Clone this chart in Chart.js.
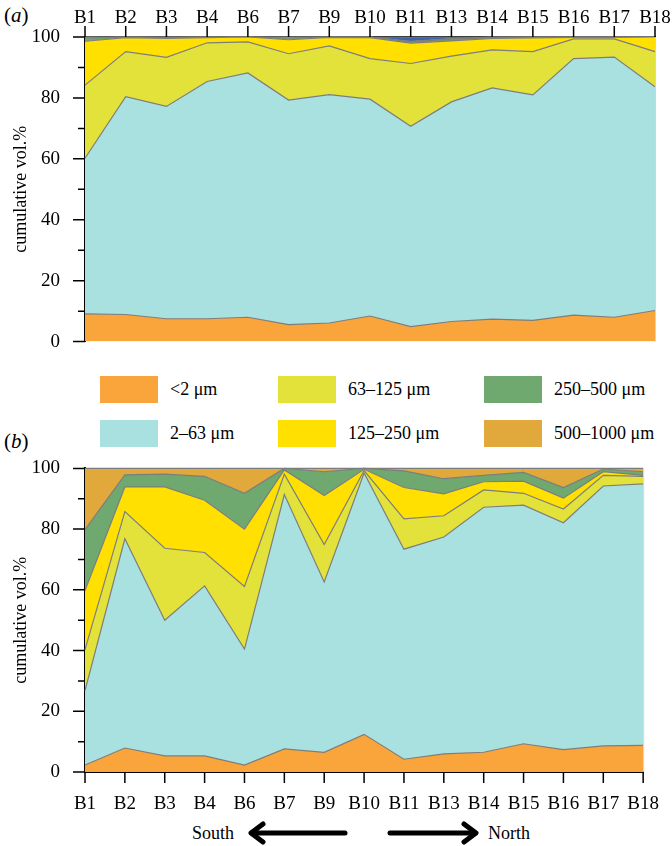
<!DOCTYPE html>
<html>
<head>
<meta charset="utf-8">
<script src="https://cdn.jsdelivr.net/npm/chart.js@4.4.1/dist/chart.umd.min.js"></script>
<style>
  body { margin: 0; background: #fff; width: 672px; height: 846px; position: relative; overflow: hidden;
         font-family: 'Liberation Serif', 'Times New Roman', serif; color: #000; }
  .box { position: absolute; left: 0; width: 672px; }
  .panel { position: absolute; left: 4px; font-size: 21px; line-height: 22px; }
  .lg { position: absolute; display: flex; align-items: center; font-size: 18px; height: 27px; white-space: nowrap; }
  .sw { width: 58px; height: 27px; margin-right: 12px; }
  .dir { position: absolute; font-size: 18px; line-height: 20px; top: 823px; }
</style>
</head>
<body>
<div class="panel" style="top:4px">(<i>a</i>)</div>
<div class="box" style="top:0;height:370px"><canvas id="chartA"></canvas></div>
<div id="legend"></div>
<div class="panel" style="top:430px">(<i>b</i>)</div>
<div class="box" style="top:440px;height:380px"><canvas id="chartB"></canvas></div>
<div class="dir" style="left:192px">South</div>
<div class="dir" style="left:488px">North</div>
<svg style="position:absolute;left:0;top:815px" width="672" height="31">
  <g stroke="#000" stroke-width="5" stroke-linecap="round" stroke-linejoin="round" fill="none">
    <line x1="252" y1="18" x2="345" y2="18"/>
    <polyline points="263,9 251,18 263,27"/>
    <line x1="390" y1="18" x2="474" y2="18"/>
    <polyline points="464,9 476,18 464,27"/>
  </g>
</svg>
<script>
// stations along the coast, south -> north
const stations = ['B1', 'B2', 'B3', 'B4', 'B6', 'B7', 'B9', 'B10', 'B11', 'B13', 'B14', 'B15', 'B16', 'B17', 'B18'];
const sizeClasses = ['<2 μm', '2–63 μm', '63–125 μm', '125–250 μm', '250–500 μm', '500–1000 μm'];
const classColors = ['#f9a53b', '#a9e1e0', '#e2e23a', '#ffe000', '#6fa96f', '#e1a83c'];
const extraColor = '#3d64a8';

// (a) vol.% per size class
const clayA   = [9.1, 8.9, 7.5, 7.5, 8.0, 5.6, 6.1, 8.4, 4.9, 6.6, 7.4, 7.0, 8.7, 8.0, 10.2];
const siltA   = [51.1, 71.5, 69.7, 77.9, 80.2, 73.7, 75.0, 71.2, 65.8, 72.1, 75.9, 74.0, 84.2, 85.4, 73.5];
const vfSandA = [24.0, 14.8, 16.1, 12.7, 10.2, 15.2, 16.0, 13.3, 20.6, 15.0, 12.5, 14.2, 6.5, 6.0, 11.5];
const fSandA  = [14.4, 4.6, 6.2, 1.7, 1.6, 4.6, 2.8, 6.9, 6.7, 5.0, 3.7, 4.5, 0.5, 0.5, 4.8];
const mSandA  = [1.0, 0.2, 0.3, 0.2, 0.0, 0.5, 0.1, 0.2, 0.4, 0.6, 0.3, 0.3, 0.1, 0.1, 0.0];
const cSandA  = [0.4, 0.0, 0.2, 0.0, 0.0, 0.4, 0.0, 0.0, 0.2, 0.2, 0.2, 0.0, 0.0, 0.0, 0.0];
const extraA  = [0.0, 0.0, 0.0, 0.0, 0.0, 0.0, 0.0, 0.0, 1.4, 0.5, 0.0, 0.0, 0.0, 0.0, 0.0];

// (b) vol.% per size class
const clayB   = [2.3, 7.9, 5.3, 5.3, 2.3, 7.6, 6.5, 12.4, 4.2, 6.0, 6.5, 9.3, 7.4, 8.6, 8.8];
const siltB   = [24.5, 68.9, 44.7, 56.0, 38.2, 83.8, 56.1, 86.1, 69.2, 71.4, 80.7, 78.6, 74.7, 85.6, 86.1];
const vfSandB = [13.5, 9.0, 23.7, 11.0, 20.6, 6.7, 12.3, 0.8, 10.0, 7.0, 5.7, 3.9, 4.5, 3.5, 2.5];
const fSandB  = [19.5, 8.1, 20.2, 17.2, 18.9, 1.4, 16.2, 0.4, 10.3, 7.2, 2.7, 4.0, 3.6, 1.2, 0.3];
const mSandB  = [20.0, 4.0, 4.2, 7.9, 11.8, 0.5, 7.8, 0.3, 5.5, 5.0, 2.1, 2.9, 3.5, 0.9, 1.2];
const cSandB  = [20.2, 2.1, 1.9, 2.6, 8.2, 0.0, 1.1, 0.0, 0.8, 3.4, 2.3, 1.3, 6.3, 0.2, 1.1];

const yTicks = [0, 20, 40, 60, 80, 100];
const FONT = "'Liberation Serif', 'Times New Roman', serif";

// legend: two rows, filled column by column
const legend = document.getElementById('legend');
const colLeft = [100, 278, 484];
const rowTop = [376, 420];
sizeClasses.forEach((label, i) => {
    const item = document.createElement('div');
    item.className = 'lg';
    item.style.left = colLeft[Math.floor(i / 2)] + 'px';
    item.style.top = rowTop[i % 2] + 'px';
    item.innerHTML = `<div class="sw" style="background:${classColors[i]}"></div><span>${label}</span>`;
    legend.appendChild(item);
});

// major/minor tick marks drawn outside the plot
const tickMarks = {
    id: 'tickMarks',
    afterDraw(chart, args, opts) {
        const { ctx, chartArea, scales: { x, y } } = chart;
        ctx.save();
        ctx.strokeStyle = '#000';
        ctx.lineWidth = 1.5;
        ctx.beginPath();
        for (let v = 0; v <= 100; v += 10) {
            const py = y.getPixelForValue(v);
            ctx.moveTo(chartArea.left - (v % 20 === 0 ? 12 : 7), py);
            ctx.lineTo(chartArea.left, py);
        }
        const base = opts.top ? chartArea.top : chartArea.bottom;
        const dir = opts.top ? -1 : 1;
        x.ticks.forEach((t, i) => {
            const px = x.getPixelForTick(i);
            ctx.moveTo(px, base);
            ctx.lineTo(px, base + dir * 11);
        });
        ctx.stroke();
        // faint right frame
        ctx.strokeStyle = '#d4d4d4';
        ctx.lineWidth = 1;
        ctx.beginPath();
        ctx.moveTo(chartArea.right + 0.5, chartArea.top);
        ctx.lineTo(chartArea.right + 0.5, chartArea.bottom);
        ctx.stroke();
        ctx.restore();
    }
};

function makeChart(id, series, colors, top, padding, xHeight) {
    const datasets = series.map((data, i) => ({
        data: data,
        backgroundColor: colors[i],
        borderColor: '#7d7d7d',
        borderWidth: 1.2,
        pointRadius: 0,
        tension: 0,
        clip: false,
        fill: i === 0 ? 'origin' : '-1'
    }));
    return new Chart(document.getElementById(id), {
        type: 'line',
        data: { labels: stations, datasets: datasets },
        options: {
            responsive: true,
            maintainAspectRatio: false,
            animation: false,
            events: [],
            layout: { padding: padding },
            plugins: { legend: { display: false }, tooltip: { enabled: false }, tickMarks: { top: top } },
            scales: {
                x: {
                    position: top ? 'top' : 'bottom',
                    offset: false,
                    z: 1,
                    grid: { display: false },
                    border: { display: true, color: '#000', width: 2 },
                    ticks: { color: '#000', font: { family: FONT, size: 19 }, padding: top ? 0 : 13, maxRotation: 0, autoSkip: false },
                    afterFit: s => { s.height = xHeight; }
                },
                y: {
                    stacked: true,
                    min: 0,
                    max: 100,
                    z: 1,
                    afterBuildTicks: s => { s.ticks = yTicks.map(v => ({ value: v })); },
                    grid: { display: false },
                    border: { display: true, color: '#000', width: 2 },
                    ticks: { color: '#000', font: { family: FONT, size: 19 }, padding: 17 },
                    title: {
                        display: true,
                        text: 'cumulative vol.%',
                        color: '#000',
                        font: { family: FONT, size: 18 },
                        padding: { top: 10, bottom: 0 }
                    },
                    afterFit: s => { s.width = 85; }
                }
            }
        },
        plugins: [tickMarks]
    });
}

makeChart('chartA',
    [clayA, siltA, vfSandA, fSandA, mSandA, cSandA, extraA],
    classColors.concat([extraColor]),
    true, { left: 0, right: 17, top: 0, bottom: 13 }, 37);

makeChart('chartB',
    [clayB, siltB, vfSandB, fSandB, mSandB, cSandB],
    classColors,
    false, { left: 0, right: 17, top: 13, bottom: 0 }, 48);
</script>
</body>
</html>
